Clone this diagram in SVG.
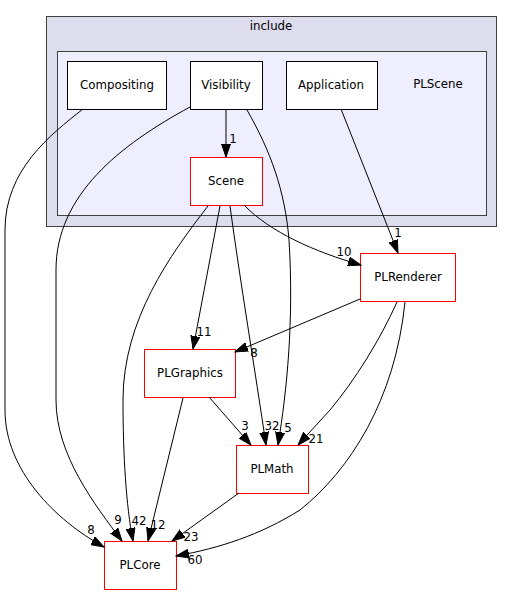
<svg xmlns="http://www.w3.org/2000/svg" width="513" height="595" viewBox="0 0 513 595">
<defs>
<marker id="arr" markerWidth="14" markerHeight="10" refX="13" refY="5" orient="auto" markerUnits="userSpaceOnUse">
<path d="M0,0.5 L13,5 L0,9.5 z" fill="#000" stroke="#000" stroke-width="1"/>
</marker>
<style>
text{font-family:"DejaVu Sans","Liberation Sans",sans-serif;font-size:11.8px;fill:#000}
.n{fill:#fff;stroke:#000;stroke-width:1}
.r{fill:#fff;stroke:#ff0000;stroke-width:1}
.e{fill:none;stroke:#000;stroke-width:1;marker-end:url(#arr)}
.lbl{text-anchor:middle}
</style>
</defs>
<rect width="513" height="595" fill="#fff"/>
<g id="cluster_include">
<rect x="46.5" y="16.5" width="450" height="210" fill="#ddddee" stroke="#404040"/>
<text x="271" y="30" class="lbl">include</text>
</g>
<g id="cluster_PLScene">
<rect x="57.5" y="51.5" width="429" height="164" fill="#eeeeff" stroke="#404040"/>
<text x="438" y="88" class="lbl">PLScene</text>
</g>
<g id="node_Compositing">
<rect class="n" x="67.5" y="61.5" width="99" height="48"/>
<text x="117" y="89" class="lbl">Compositing</text>
</g>
<g id="node_Visibility">
<rect class="n" x="190.5" y="61.5" width="72" height="48"/>
<text x="226" y="89" class="lbl">Visibility</text>
</g>
<g id="node_Application">
<rect class="n" x="286.5" y="61.5" width="91" height="48"/>
<text x="331" y="89" class="lbl">Application</text>
</g>
<g id="node_Scene">
<rect class="r" x="190.5" y="157.5" width="72" height="48"/>
<text x="226" y="185" class="lbl">Scene</text>
</g>
<g id="node_PLRenderer">
<rect class="r" x="360.5" y="253.5" width="95" height="48"/>
<text x="408" y="281" class="lbl">PLRenderer</text>
</g>
<g id="node_PLGraphics">
<rect class="r" x="144.5" y="349.5" width="91" height="48"/>
<text x="190" y="377" class="lbl">PLGraphics</text>
</g>
<g id="node_PLMath">
<rect class="r" x="236.5" y="445.5" width="72" height="48"/>
<text x="272" y="473" class="lbl">PLMath</text>
</g>
<g id="node_PLCore">
<rect class="r" x="104.5" y="541.5" width="72" height="48"/>
<text x="140" y="569" class="lbl">PLCore</text>
</g>
<g id="connectors">
<path class="e" d="M226,110 L226,157"/>
<text x="233" y="143" class="lbl">1</text>
<path class="e" d="M83,109 C50,135 5,170 5,230 L5,410 C5,470 55,520 104,547"/>
<text x="91" y="534" class="lbl">8</text>
<path class="e" d="M190,107 C120,145 56,195 56,270 L56,400 C56,455 95,505 122,541"/>
<text x="118" y="524" class="lbl">9</text>
<path class="e" d="M208,206 C170,255 123,320 123,400 C123,455 126,505 133,541"/>
<text x="139" y="525" class="lbl">42</text>
<path class="e" d="M220,206 L193,349"/>
<text x="204" y="336" class="lbl">11</text>
<path class="e" d="M230,206 C240,280 255,370 266,445"/>
<text x="272" y="430" class="lbl">32</text>
<path class="e" d="M247,110 C270,150 285,190 289,240 C294,320 287,390 278,445"/>
<text x="288" y="432" class="lbl">5</text>
<path class="e" d="M244,205 C270,232 315,252 361,265"/>
<text x="344" y="256" class="lbl">10</text>
<path class="e" d="M341,109 L398,253"/>
<text x="398" y="237" class="lbl">1</text>
<path class="e" d="M360,299 L235,352"/>
<text x="254" y="357" class="lbl">8</text>
<path class="e" d="M397,302 C380,340 355,380 330,410 L298,445"/>
<text x="316" y="443" class="lbl">21</text>
<path class="e" d="M405,302 C395,400 350,470 300,510 C260,535 220,548 176,556"/>
<text x="195" y="564" class="lbl">60</text>
<path class="e" d="M209,397 L251,445"/>
<text x="245" y="430" class="lbl">3</text>
<path class="e" d="M183,398 L148,541"/>
<text x="158" y="529" class="lbl">12</text>
<path class="e" d="M239,493 L172,541"/>
<text x="191" y="541" class="lbl">23</text>
</g>
</svg>
